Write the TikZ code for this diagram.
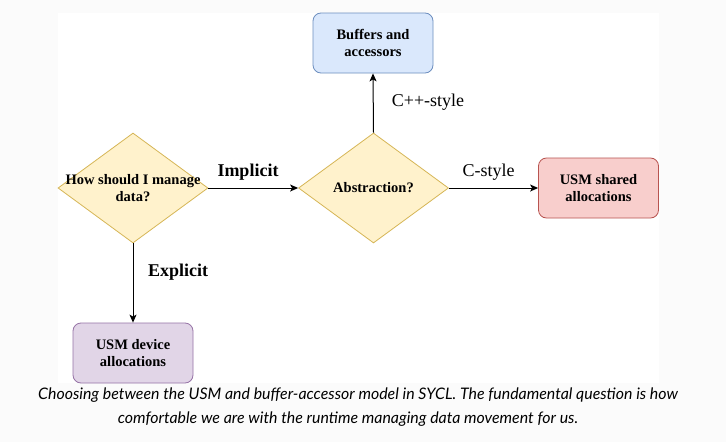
\documentclass[tikz,border=0pt]{standalone}
\usepackage{fontspec}
\setmainfont{Liberation Serif}
\newfontfamily\lato{Lato}
\usetikzlibrary{shapes.geometric,arrows.meta}
\definecolor{pagebg}{HTML}{FBFBFB}
\definecolor{yfill}{HTML}{FFF2CC}\definecolor{ydraw}{HTML}{D6B656}
\definecolor{bfill}{HTML}{DAE8FC}\definecolor{bdraw}{HTML}{6C8EBF}
\definecolor{rfill}{HTML}{F8CECC}\definecolor{rdraw}{HTML}{B85450}
\definecolor{pfill}{HTML}{E1D5E7}\definecolor{pdraw}{HTML}{9673A6}
\begin{document}
\begin{tikzpicture}[x=1pt,y=-1pt,
  dia/.style={diamond,draw=ydraw,fill=yfill,line width=0.8pt,minimum width=150pt,minimum height=110pt,inner sep=0pt,aspect=1.36},
  dtext/.style={font=\fontsize{14.5}{16.5}\selectfont\bfseries,align=center,inner sep=0pt},
  boxn/.style={rounded corners=8pt,line width=0.8pt,minimum width=120pt,minimum height=60pt,inner sep=0pt,align=center,font=\fontsize{14.5}{16.5}\selectfont\bfseries},
  conn/.style={line width=1pt,-{Stealth[length=8pt,width=7pt,inset=2pt]}},
  blab/.style={font=\fontsize{18}{20}\selectfont\bfseries,inner sep=0pt},
  rlab/.style={font=\fontsize{18}{20}\selectfont,inner sep=0pt}]
\useasboundingbox (0,0) rectangle (726,442);
\fill[pagebg] (0,0) rectangle (726,442);
\fill[white] (58,13) rectangle (659,383);
\node[dia] (q1) at (133,188) {};
\node[dtext] at (q1.center) {How should I manage\\data?};
\node[dia] (q2) at (373.5,188) {};
\node[dtext] at (q2.center) {Abstraction?};
\node[boxn,draw=bdraw,fill=bfill] (buf) at (373,43) {Buffers and\\accessors};
\node[boxn,draw=rdraw,fill=rfill] (shared) at (598.5,188) {USM shared\\allocations};
\node[boxn,draw=pdraw,fill=pfill] (dev) at (133,353) {USM device\\allocations};
\draw[conn] (q1.east) -- (q2.west);
\draw[conn] (q1.south) -- (dev.north);
\draw[conn] (q2.north) -- (buf.south);
\draw[conn] (q2.east) -- (shared.west);
\node[blab] (limp) at (248,172) {Implicit};
\node[blab] (lexp) at (178,272) {Explicit};
\node[rlab] (lcpp) at (428,102) {C++-style};
\node[rlab] (lc) at (488.5,172) {C-style};
\node[font=\lato\itshape\fontsize{15.9}{24}\selectfont,align=center,inner sep=0pt] (cap) at (358,407)
  {Choosing between the USM and buffer-accessor model in SYCL. The fundamental question is how\\comfortable we are with the runtime managing data movement for us.\hspace*{20pt}};
\end{tikzpicture}
\end{document}
